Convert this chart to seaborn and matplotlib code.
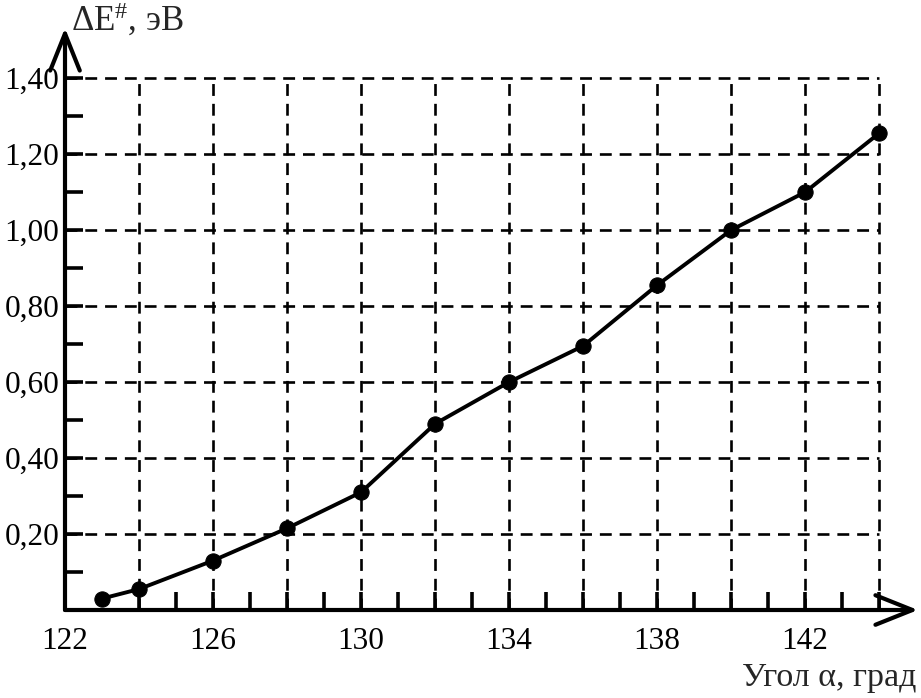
import matplotlib
matplotlib.use("Agg")
import matplotlib.pyplot as plt
import seaborn as sns
import pandas as pd
import numpy as np

# Data
angle = [123, 124, 126, 128, 130, 132, 134, 136, 138, 140, 142, 144]
energy = [0.03, 0.055, 0.13, 0.215, 0.31, 0.49, 0.60, 0.695, 0.855, 1.00, 1.10, 1.255]
x_tick_labels = [122, 126, 130, 134, 138, 142]
y_tick_vals = [0.20, 0.40, 0.60, 0.80, 1.00, 1.20, 1.40]
y_tick_labels = ["0,20", "0,40", "0,60", "0,80", "1,00", "1,20", "1,40"]
x_grid = [124, 126, 128, 130, 132, 134, 136, 138, 140, 142, 144]
x_minor = [124, 125, 127, 128, 129, 131, 132, 133, 135, 136, 137, 139, 140, 141, 143, 144]
y_minor = [0.10, 0.30, 0.50, 0.70, 0.90, 1.10, 1.30]

sns.set_theme(style="white")
plt.rcParams['font.family'] = ['Liberation Serif', 'DejaVu Serif']
plt.rcParams['mathtext.fontset'] = 'custom'
plt.rcParams['mathtext.rm'] = 'Liberation Serif'
plt.rcParams['mathtext.default'] = 'regular'

fig = plt.figure(figsize=(9.21, 6.98), dpi=100)
ax = fig.add_axes([65/921, (698-610)/698, (918-65)/921, (610-28)/698])

xmin, xmax = 122, 145.05
ymin, ymax = 0, 1.532
ax.set_xlim(xmin, xmax)
ax.set_ylim(ymin, ymax)

# dashed grid limited to data region
dash = (0, (4.5, 3))
ax.hlines(y_tick_vals, xmin, x_grid[-1], colors='black', linestyles=dash, lw=1.9, zorder=1)
ax.vlines(x_grid, 0, y_tick_vals[-1], colors='black', linestyles=dash, lw=1.9, zorder=1)

df = pd.DataFrame({"angle": angle, "energy": energy})
sns.lineplot(data=df, x="angle", y="energy", ax=ax, color='black', lw=2.8,
             marker='o', markersize=11, markeredgecolor='black', zorder=3)

for s in ['top', 'right', 'left', 'bottom']:
    ax.spines[s].set_visible(False)

# axes with arrows
arrow_kw = dict(arrowstyle='->,head_length=0.95,head_width=0.38', lw=3.0, color='black',
                mutation_scale=28, shrinkA=0, shrinkB=0)
ax.annotate('', xy=(1.0, 0), xytext=(0, 0), xycoords='axes fraction',
            textcoords='axes fraction', arrowprops=arrow_kw, annotation_clip=False)
ax.annotate('', xy=(0, 1.0), xytext=(0, 0), xycoords='axes fraction',
            textcoords='axes fraction', arrowprops=arrow_kw, annotation_clip=False)

ax.set_xticks(x_tick_labels)
ax.set_xticklabels([str(v) for v in x_tick_labels], fontsize=22.5)
ax.set_xticks(x_minor, minor=True)
ax.set_yticks(y_tick_vals)
ax.set_yticklabels(y_tick_labels, fontsize=22.5)
ax.set_yticks(y_minor, minor=True)
ax.tick_params(axis='x', which='both', direction='in', length=13, width=2.6, colors='black', pad=12, bottom=True)
ax.tick_params(axis='y', which='both', direction='in', length=13, width=2.6, colors='black', pad=4, left=True)

ax.set_xlabel('')
ax.set_ylabel('')

fig.text(71/921, 1-31/698, 'ΔE$^{\\#}$, эВ', fontsize=25, ha='left', va='baseline')
fig.text(916/921, 1-686/698, 'Угол α, град', fontsize=24.5, ha='right', va='baseline')

fig.savefig('out.png', dpi=100)
